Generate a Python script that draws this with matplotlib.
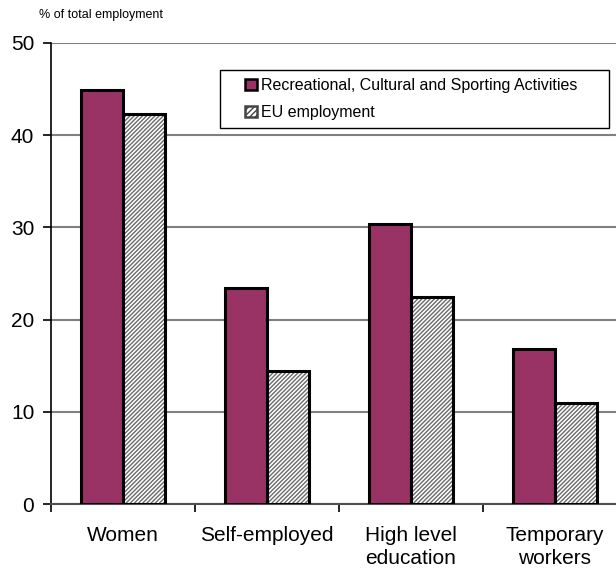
import matplotlib
matplotlib.use("Agg")
import matplotlib.pyplot as plt
import numpy as np
from matplotlib.patches import Patch, Rectangle

plt.rcParams['font.family'] = ['Liberation Sans', 'DejaVu Sans']

categories = ["Women", "Self-employed", "High level\neducation", "Temporary\nworkers"]
rcsa = [44.9, 23.4, 30.4, 16.8]
eu = [42.3, 14.4, 22.4, 11.0]
series_names = ["Recreational, Cultural and Sporting Activities", "EU employment"]
yticks = [0, 10, 20, 30, 40, 50]

W, H = 616, 573
fig = plt.figure(figsize=(W / 100, H / 100), dpi=100)
ax = fig.add_axes([51 / W, 1 - 504 / H, 576 / W, 461 / H])

x = np.arange(len(categories))
bw = 0.29
purple = "#993366"
hatch_gray = "#6a6a6a"

plt.rcParams['hatch.linewidth'] = 1.0
ax.bar(x - bw / 2, rcsa, bw, color=purple, edgecolor="black", linewidth=2.2, zorder=3)
ax.bar(x + bw / 2, eu, bw, color="white", edgecolor=hatch_gray, hatch="////////", linewidth=0, zorder=3)
ax.bar(x + bw / 2, eu, bw, fill=False, edgecolor="black", linewidth=2.2, zorder=4)

ax.set_xlim(-0.5, len(categories) - 0.5)
ax.set_ylim(0, 50)
ax.set_yticks(yticks)
ax.set_yticklabels([str(v) for v in yticks], fontsize=15)
ax.yaxis.grid(True, color="#808080", linewidth=1.5, zorder=0)
ax.set_axisbelow(True)

ax.set_xticks(x)
ax.set_xticklabels(categories, fontsize=15, linespacing=1.22)
ax.tick_params(axis='x', which='major', length=0, pad=16)
ax.set_xticks(np.arange(len(categories)) - 0.5, minor=True)
ax.tick_params(axis='x', which='minor', length=6, width=1.2, direction='out')
ax.tick_params(axis='y', length=6, width=1.2, direction='out', pad=6)

for s in ['top', 'right']:
    ax.spines[s].set_visible(False)
ax.spines['left'].set_linewidth(1.2)
ax.spines['bottom'].set_linewidth(1.5)
ax.spines['bottom'].set_color("#505050")

fig.text(39 / W, 1 - 15 / H, "% of total employment", fontsize=9, va='center', ha='left')

# legend frame
fig.patches.append(Rectangle((220 / W, 1 - 128 / H), 389 / W, 58 / H,
                             transform=fig.transFigure, facecolor="white",
                             edgecolor="black", linewidth=1.0, zorder=5))

handles = [Patch(facecolor=purple, edgecolor="black", linewidth=1.8),
           Patch(facecolor="white", edgecolor="#444444", hatch="//////", linewidth=1.8)]
leg = fig.legend(handles, series_names, loc='center left',
                 bbox_to_anchor=(245 / W, 1 - 99 / H),
                 bbox_transform=fig.transFigure, borderaxespad=0, borderpad=0,
                 fontsize=11.5, frameon=False, handlelength=0.75,
                 handleheight=0.75, handletextpad=0.25, labelspacing=0.75)
leg.set_zorder(6)

fig.savefig("out.png", dpi=100)
